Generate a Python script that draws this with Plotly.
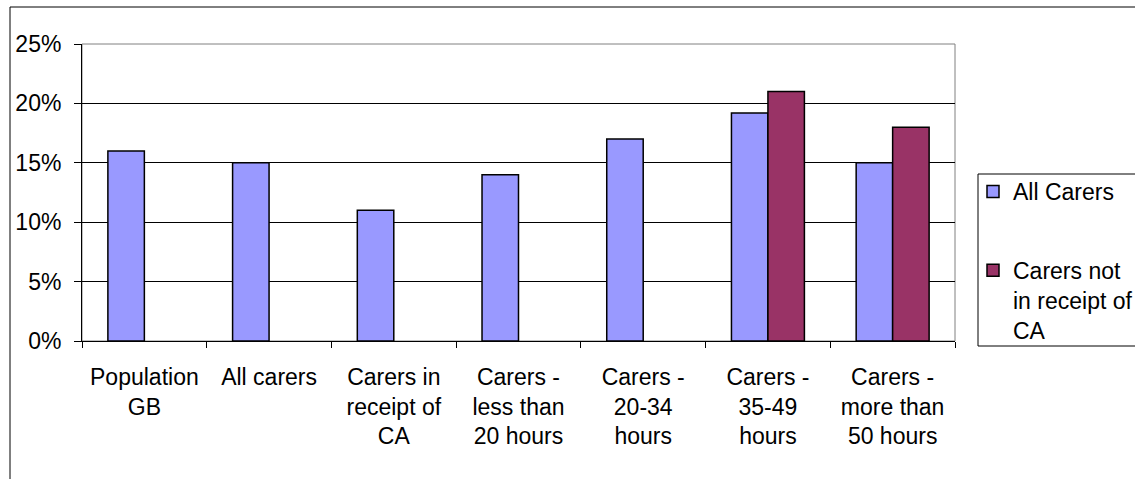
import plotly.graph_objects as go

categories = [
    "Population<br>GB",
    "All carers",
    "Carers in<br>receipt of<br>CA",
    "Carers -<br>less than<br>20 hours",
    "Carers -<br>20-34<br>hours",
    "Carers -<br>35-49<br>hours",
    "Carers -<br>more than<br>50 hours",
]
all_carers = [0.16, 0.15, 0.11, 0.14, 0.17, 0.192, 0.15]
not_in_receipt = [None, None, None, None, None, 0.21, 0.18]
y_ticks = [0, 0.05, 0.10, 0.15, 0.20, 0.25]
y_tick_text = ["0%", "5%", "10%", "15%", "20%", "25%"]

FONT = "Liberation Sans, Arial, sans-serif"
W, H = 1135, 479
L, R, T, B = 82, 1135 - 955, 44, 479 - 341
pw, ph = W - L - R, H - T - B

fig = go.Figure()
fig.add_trace(go.Bar(
    x=categories, y=all_carers, name="All Carers",
    marker=dict(color="#9999FF", line=dict(color="black", width=1.5)),
    legendgroup="a",
))
fig.add_trace(go.Bar(
    x=categories, y=not_in_receipt, name="Carers not<br>in receipt of<br>CA",
    marker=dict(color="#993366", line=dict(color="black", width=1.5)),
    legendgroup="b",
))

def px_x(x):
    return (x - L) / pw

def px_y(y):
    return (H - B - y) / ph

fig.update_layout(
    width=W, height=H,
    margin=dict(l=L, r=R, t=T, b=B, autoexpand=False),
    paper_bgcolor="white", plot_bgcolor="white",
    font=dict(family=FONT, size=23, color="black"),
    barmode="group", bargap=0.415, bargroupgap=0,
    showlegend=True,
    legend=dict(
        x=px_x(973), y=px_y(170), xanchor="left", yanchor="top",
        borderwidth=0, bgcolor="rgba(0,0,0,0)",
        font=dict(family=FONT, size=23, color="black"),
        traceorder="grouped", tracegroupgap=46, valign="top",
    ),
    xaxis=dict(
        type="category", showgrid=False, showline=True, linecolor="black",
        linewidth=1, ticks="outside", tickson="boundaries", ticklen=6,
        tickcolor="black", tickfont=dict(size=23), ticklabelstandoff=15,
    ),
    yaxis=dict(
        range=[0, 0.25], tickvals=y_ticks, ticktext=y_tick_text,
        showgrid=True, gridcolor="black", gridwidth=1,
        showline=True, linecolor="black", linewidth=1,
        ticks="outside", ticklen=7, tickcolor="black",
        tickfont=dict(size=23), zeroline=False, ticklabelstandoff=8,
    ),
    shapes=[
        dict(type="rect", xref="paper", yref="paper", x0=0, x1=1, y0=0, y1=1,
             line=dict(color="#808080", width=1), layer="below"),
        dict(type="rect", xref="paper", yref="paper",
             x0=px_x(10), x1=px_x(1300), y0=px_y(7), y1=px_y(700),
             line=dict(color="black", width=1), layer="below"),
        dict(type="rect", xref="paper", yref="paper",
             x0=px_x(978), x1=px_x(1300), y0=px_y(174), y1=px_y(346),
             line=dict(color="black", width=1), fillcolor="white", layer="below"),
    ],
)

fig.write_html("out.html")
